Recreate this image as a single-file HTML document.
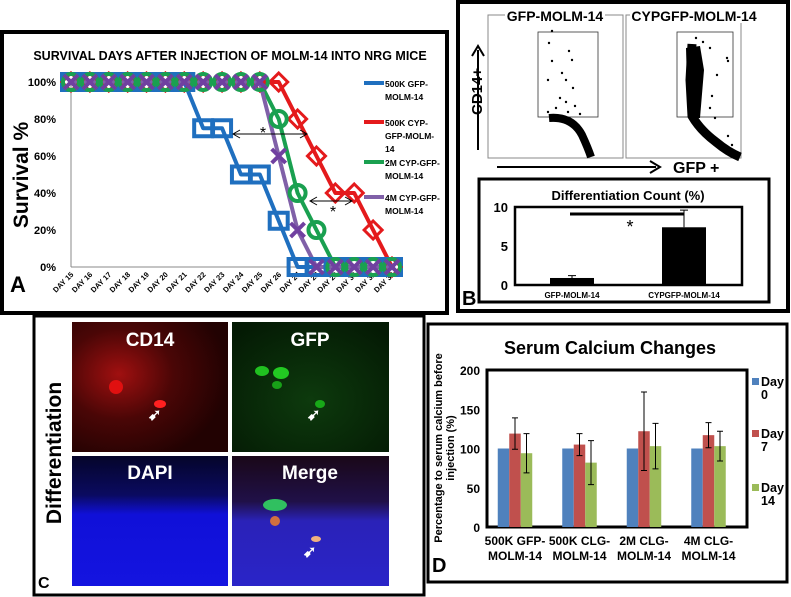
<!DOCTYPE html>
<html><head><meta charset="utf-8"><style>
body{margin:0;background:#fff;}
svg{display:block;font-family:"Liberation Sans",Arial,sans-serif;}
</style></head><body>
<svg width="791" height="597" viewBox="0 0 791 597" xmlns="http://www.w3.org/2000/svg">
<defs>
<radialGradient id="gRed" cx="0.3" cy="0.4" r="0.7"><stop offset="0" stop-color="#a01010"/><stop offset="0.5" stop-color="#4a0606"/><stop offset="1" stop-color="#220202"/></radialGradient>
<radialGradient id="gGreen" cx="0.5" cy="0.6" r="0.7"><stop offset="0" stop-color="#0d3a0d"/><stop offset="1" stop-color="#041a04"/></radialGradient>
<linearGradient id="gBlue" x1="0" y1="0" x2="0" y2="1"><stop offset="0" stop-color="#05052a"/><stop offset="0.3" stop-color="#0a0a60"/><stop offset="0.45" stop-color="#1010d8"/><stop offset="1" stop-color="#1414e0"/></linearGradient>
<linearGradient id="gMerge" x1="0" y1="0" x2="0" y2="1"><stop offset="0" stop-color="#1a0818"/><stop offset="0.35" stop-color="#201048"/><stop offset="0.5" stop-color="#2a22b8"/><stop offset="1" stop-color="#2a24c8"/></linearGradient>
</defs>

<!-- PANEL A -->
<g>
<rect x="2" y="32" width="445" height="281" fill="#fff" stroke="#000" stroke-width="4"/>
<text x="230" y="60" text-anchor="middle" font-size="12.5" font-weight="bold">SURVIVAL DAYS AFTER INJECTION OF MOLM-14 INTO NRG MICE</text>
<text transform="translate(28,175) rotate(-90)" text-anchor="middle" font-size="21" font-weight="bold">Survival %</text>
<text x="10" y="292" font-size="22" font-weight="bold">A</text>
<g id="aAxes"></g>
<g id="aSeries"></g>
<g>
<line x1="234" y1="134" x2="306" y2="134" stroke="#000" stroke-width="1"/>
<path d="M240 130 L233 134 L240 138 M300 130 L307 134 L300 138" fill="none" stroke="#000"/>
<text x="263" y="138" font-size="16" text-anchor="middle">*</text>
<line x1="311" y1="201" x2="351" y2="201" stroke="#000" stroke-width="1"/>
<path d="M317 197 L310 201 L317 205 M345 197 L352 201 L345 205" fill="none" stroke="#000"/>
<text x="333" y="217" font-size="16" text-anchor="middle">*</text>
</g>
<g id="aLegend"></g>
</g>

<!-- PANEL B -->
<g>
<rect x="458" y="2" width="330" height="309" fill="#fff" stroke="#000" stroke-width="4"/>
<rect x="488" y="15" width="135" height="143" fill="#fff" stroke="#888" stroke-width="1"/>
<rect x="626" y="15" width="115" height="143" fill="#fff" stroke="#888" stroke-width="1"/>
<rect x="505" y="8" width="100" height="15" fill="#fff"/>
<rect x="630" y="8" width="125" height="15" fill="#fff"/>
<text x="555" y="21" text-anchor="middle" font-size="14" font-weight="bold">GFP-MOLM-14</text>
<text x="694" y="21" text-anchor="middle" font-size="14" font-weight="bold">CYPGFP-MOLM-14</text>
<rect x="538" y="32" width="60" height="85" fill="none" stroke="#333" stroke-width="0.8"/>
<rect x="677" y="32" width="56" height="85" fill="none" stroke="#333" stroke-width="0.8"/>
<path d="M549 118 Q572 116 582 135 Q588 148 591 157" fill="none" stroke="#000" stroke-width="8"/>
<path d="M692 44 L690 80 L692 116 Q700 130 716 142 Q728 152 740 157" fill="none" stroke="#000" stroke-width="9"/>
<path d="M686 48 L700 46 L704 70 L700 118 L688 118 Z" fill="#000"/>
<g fill="#000">
<circle cx="552" cy="31" r="1.2"/><circle cx="549" cy="43" r="1.2"/><circle cx="569" cy="51" r="1.2"/><circle cx="552" cy="61" r="1.2"/><circle cx="572" cy="60" r="1.2"/><circle cx="562" cy="73" r="1.2"/><circle cx="566" cy="80" r="1.2"/><circle cx="573" cy="88" r="1.2"/><circle cx="548" cy="80" r="1.2"/><circle cx="560" cy="98" r="1.2"/><circle cx="566" cy="102" r="1.2"/><circle cx="556" cy="108" r="1.2"/><circle cx="575" cy="106" r="1.2"/><circle cx="548" cy="112" r="1.2"/><circle cx="568" cy="112" r="1.2"/><circle cx="580" cy="114" r="1.2"/>
<circle cx="696" cy="38" r="1.2"/><circle cx="703" cy="42" r="1.2"/><circle cx="710" cy="48" r="1.2"/><circle cx="727" cy="58" r="1.2"/><circle cx="728" cy="61" r="1.2"/><circle cx="717" cy="75" r="1.2"/><circle cx="712" cy="96" r="1.2"/><circle cx="710" cy="108" r="1.2"/><circle cx="715" cy="118" r="1.2"/><circle cx="728" cy="136" r="1.2"/><circle cx="732" cy="145" r="1.2"/>
</g>
<line x1="478" y1="150" x2="478" y2="50" stroke="#000" stroke-width="2"/>
<path d="M472 56 L478 46 L484 56" fill="none" stroke="#000" stroke-width="2"/>
<text transform="translate(482,115) rotate(-90)" font-size="15" font-weight="bold">CD14+</text>
<line x1="497" y1="167" x2="656" y2="167" stroke="#000" stroke-width="2"/>
<path d="M650 161 L660 167 L650 173" fill="none" stroke="#000" stroke-width="2"/>
<text x="673" y="173" font-size="16" font-weight="bold">GFP +</text>
<rect x="479" y="179" width="290" height="123" fill="#fff" stroke="#000" stroke-width="3"/>
<text x="628" y="200" text-anchor="middle" font-size="13" font-weight="bold">Differentiation Count (%)</text>
<g id="bChart"></g>
<text x="462" y="305" font-size="20" font-weight="bold">B</text>
</g>

<!-- PANEL C -->
<g>
<rect x="34" y="316" width="390" height="279" fill="#fff" stroke="#000" stroke-width="3"/>
<rect x="72" y="322" width="156" height="130" fill="url(#gRed)"/>
<ellipse cx="116" cy="387" rx="7" ry="7" fill="#e01010"/>
<ellipse cx="160" cy="404" rx="6" ry="4" fill="#ff2020"/>
<rect x="232" y="322" width="157" height="130" fill="url(#gGreen)"/>
<ellipse cx="262" cy="371" rx="7" ry="5" fill="#20c020"/>
<ellipse cx="281" cy="373" rx="8" ry="6" fill="#22c822"/>
<ellipse cx="277" cy="385" rx="5" ry="4" fill="#18a018"/>
<ellipse cx="320" cy="404" rx="5" ry="4" fill="#18a818"/>
<rect x="72" y="456" width="156" height="130" fill="url(#gBlue)"/>
<rect x="232" y="456" width="157" height="130" fill="url(#gMerge)"/>
<ellipse cx="275" cy="505" rx="12" ry="6" fill="#30c060"/>
<ellipse cx="275" cy="521" rx="5" ry="5" fill="#d07040"/>
<ellipse cx="316" cy="539" rx="5" ry="3" fill="#f0b080"/>
<g font-size="19" font-weight="bold" fill="#fff" text-anchor="middle">
<text x="150" y="346">CD14</text>
<text x="310" y="346">GFP</text>
<text x="150" y="479">DAPI</text>
<text x="310" y="479">Merge</text>
</g>
<g fill="#fff" font-size="16" font-weight="bold">
<text x="148" y="420">➹</text>
<text x="307" y="420">➹</text>
<text x="303" y="557">➹</text>
</g>
<text transform="translate(61,453) rotate(-90)" text-anchor="middle" font-size="21" font-weight="bold">Differentiation</text>
<text x="38" y="588" font-size="16" font-weight="bold">C</text>
</g>

<!-- PANEL D -->
<g>
<rect x="428" y="324" width="359" height="258" fill="#fff" stroke="#000" stroke-width="3"/>
<text x="610" y="354" text-anchor="middle" font-size="18" font-weight="bold">Serum Calcium Changes</text>
<text transform="translate(442,448) rotate(-90)" text-anchor="middle" font-size="11" font-weight="bold">Percentage to serum calcium before</text>
<text transform="translate(454,448) rotate(-90)" text-anchor="middle" font-size="11" font-weight="bold">injection (%)</text>
<g id="dChart"></g>
<text x="432" y="572" font-size="20" font-weight="bold">D</text>
</g>
</svg>
<script>
const NS="http://www.w3.org/2000/svg";
function mk(tag,attrs,parent,text){const e=document.createElementNS(NS,tag);for(const k in attrs)e.setAttribute(k,attrs[k]);if(text!==undefined)e.textContent=text;parent.appendChild(e);return e;}

/* ---- Panel A data ---- */
const days=["DAY 15","DAY 16","DAY 17","DAY 18","DAY 19","DAY 20","DAY 21","DAY 22","DAY 23","DAY 24","DAY 25","DAY 26","DAY 27","DAY 28","DAY 29","DAY 30","DAY 31","DAY 32"];
const yTicksA=[0,20,40,60,80,100];
const blue500k=[100,100,100,100,100,100,100,75,75,50,50,25,0,0,0,0,0,0];
const red500k=[100,100,100,100,100,100,100,100,100,100,100,100,80,60,40,40,20,0];
const green2m=[100,100,100,100,100,100,100,100,100,100,100,80,40,20,0,0,0,0];
const purple4m=[100,100,100,100,100,100,100,100,100,100,100,60,20,0,0,0,0,0];
const legendA=["500K GFP-|MOLM-14","500K CYP-|GFP-MOLM-|14","2M CYP-GFP-|MOLM-14","4M CYP-GFP-|MOLM-14"];

const ax=i=>71+i*(392-71)/(days.length-1);
const ay=v=>267-v/100*(267-82);
(function(){
 const g=document.getElementById('aAxes');
 let l=mk('line',{x1:71,y1:82,x2:71,y2:267,stroke:'#888','stroke-width':1},g);
 
 
 l=mk('line',{x1:71,y1:267,x2:395,y2:267,stroke:'#888','stroke-width':1},g);
 
 
 yTicksA.forEach(v=>{const t=mk('text',{x:56,y:ay(v)+4,'text-anchor':'end','font-size':11,'font-weight':'bold'},g,v+'%');
  
  });
 days.forEach((d,i)=>{const x=ax(i);const t=mk('text',{transform:`translate(${x+3},${275}) rotate(-45)`,'text-anchor':'end','font-size':7.5,'font-weight':'bold'},g,d);
  
  });
 const s=document.getElementById('aSeries');
 function line(vals,col,name){const p=vals.map((v,i)=>(i?'L':'M')+ax(i)+' '+ay(v)).join(' ');
  const e=mk('path',{d:p,fill:'none',stroke:col,'stroke-width':4,'stroke-linejoin':'round'},s);
  
  }
 line(blue500k,'#1f6fbf','line-500k-gfp');
 line(red500k,'#e41a1c','line-500k-cyp');
 line(green2m,'#1aa050','line-2m-cyp');
 line(purple4m,'#8060a8','line-4m-cyp');
 blue500k.forEach((v,i)=>{const m=mk('rect',{x:ax(i)-9,y:ay(v)-8,width:18,height:16,fill:'none',stroke:'#1f6fbf','stroke-width':4},s);
  
  });
 red500k.forEach((v,i)=>{const x=ax(i),y=ay(v);const m=mk('path',{d:`M${x} ${y-9} L${x+9} ${y} L${x} ${y+9} L${x-9} ${y} Z`,fill:'none',stroke:'#e41a1c','stroke-width':3},s);
  
  });
 green2m.forEach((v,i)=>{const m=mk('circle',{cx:ax(i),cy:ay(v),r:8,fill:'none',stroke:'#1aa050','stroke-width':4},s);
  
  });
 purple4m.forEach((v,i)=>{const x=ax(i),y=ay(v);const m=mk('path',{d:`M${x-7} ${y-7} L${x+7} ${y+7} M${x+7} ${y-7} L${x-7} ${y+7}`,stroke:'#7040a0','stroke-width':4},s);
  
  });
 const lg=document.getElementById('aLegend');
 const cols=['#1f6fbf','#e41a1c','#1aa050','#8060a8'];
 const ys=[83,122,162,197];
 legendA.forEach((t,k)=>{const y=ys[k];
  const ln=mk('line',{x1:364,y1:y,x2:384,y2:y,stroke:cols[k],'stroke-width':4},lg);
  
  
  t.split('|').forEach((p,j)=>{const e=mk('text',{x:385,y:y+4+j*13,'font-size':8.5,'font-weight':'bold'},lg,p);
   
   });});
})();

/* ---- Panel B bar chart ---- */
const bCats=["GFP-MOLM-14","CYPGFP-MOLM-14"];
const bVals=[0.9,7.4];
const bErr=[0.3,2.2];
const bTicks=[0,5,10];
(function(){
 const g=document.getElementById('bChart');
 const by=v=>285-v/10*(285-207);
 const bx=i=>[572,684][i];
 const f=mk('rect',{x:515,y:207,width:227,height:78,fill:'#fff',stroke:'#000','stroke-width':2.5},g);
 
 
 bTicks.forEach(v=>{const t=mk('text',{x:508,y:by(v)+5,'text-anchor':'end','font-size':13,'font-weight':'bold'},g,v);
  
  });
 bVals.forEach((v,i)=>{const x=bx(i);
  const r=mk('rect',{x:x-22,y:by(v),width:44,height:285-by(v),fill:'#000'},g);
  
  
  const e=mk('path',{d:`M${x} ${by(v)} V${by(v+bErr[i])} M${x-4} ${by(v+bErr[i])} H${x+4}`,stroke:'#000','stroke-width':1},g);
  
  
  const t=mk('text',{x:x,y:298,'text-anchor':'middle','font-size':8,'font-weight':'bold'},g,bCats[i]);
  
  });
 const s=mk('line',{x1:570,y1:214,x2:684,y2:214,stroke:'#000','stroke-width':3},g);
 
 
 const st=mk('text',{x:630,y:233,'text-anchor':'middle','font-size':18},g,'*');
 
 
})();

/* ---- Panel D grouped bars ---- */
const dCats=["500K GFP-|MOLM-14","500K CLG-|MOLM-14","2M CLG-|MOLM-14","4M CLG-|MOLM-14"];
const day0=[100,100,100,100];
const day7=[119,105,122,117];
const day14=[94,82,103,103];
const day7Err=[20,14,50,16];
const day14Err=[25,28,29,19];
const dTicks=[0,50,100,150,200];
const dLegend=["Day|0","Day|7","Day|14"];
(function(){
 const g=document.getElementById('dChart');
 const y0=527,y1=370;
 const dy=v=>y0-v/200*(y0-y1);
 const gx=i=>515+i*64.5;
 const f=mk('rect',{x:487,y:370,width:260,height:157,fill:'#fff',stroke:'#000','stroke-width':3},g);
 
 
 dTicks.forEach(v=>{const t=mk('text',{x:480,y:dy(v)+5,'text-anchor':'end','font-size':12,'font-weight':'bold'},g,v);
  
  });
 const cols=['#4f81bd','#c0504d','#9bbb59'];
 const series=[day0,day7,day14];
 const errs=[null,day7Err,day14Err];
 dCats.forEach((c,i)=>{const cx=gx(i);
  series.forEach((arr,k)=>{const x=cx-17.25+k*11.5;const v=arr[i];
   const r=mk('rect',{x:x,y:dy(v),width:11.5,height:y0-dy(v),fill:cols[k]},g);
   
   
   if(errs[k]){const e=errs[k][i];const xm=x+5.75;
    const p=mk('path',{d:`M${xm} ${dy(v+e)} V${dy(v-e)} M${xm-3} ${dy(v+e)} H${xm+3} M${xm-3} ${dy(v-e)} H${xm+3}`,stroke:'#000','stroke-width':1,fill:'none'},g);
    
    }
  });
  c.split('|').forEach((p,j)=>{const t=mk('text',{x:cx,y:545+j*15,'text-anchor':'middle','font-size':12,'font-weight':'bold'},g,p);
   
   });
 });
 const ly=[386,438,492];
 dLegend.forEach((t,k)=>{
  const s=mk('rect',{x:752,y:ly[k]-8,width:7,height:7,fill:cols[k]},g);
  
  
  t.split('|').forEach((p,j)=>{const e=mk('text',{x:761,y:ly[k]+j*13,'font-size':12.5,'font-weight':'bold'},g,p);
   
   });
 });
})();
</script>
</body></html>
